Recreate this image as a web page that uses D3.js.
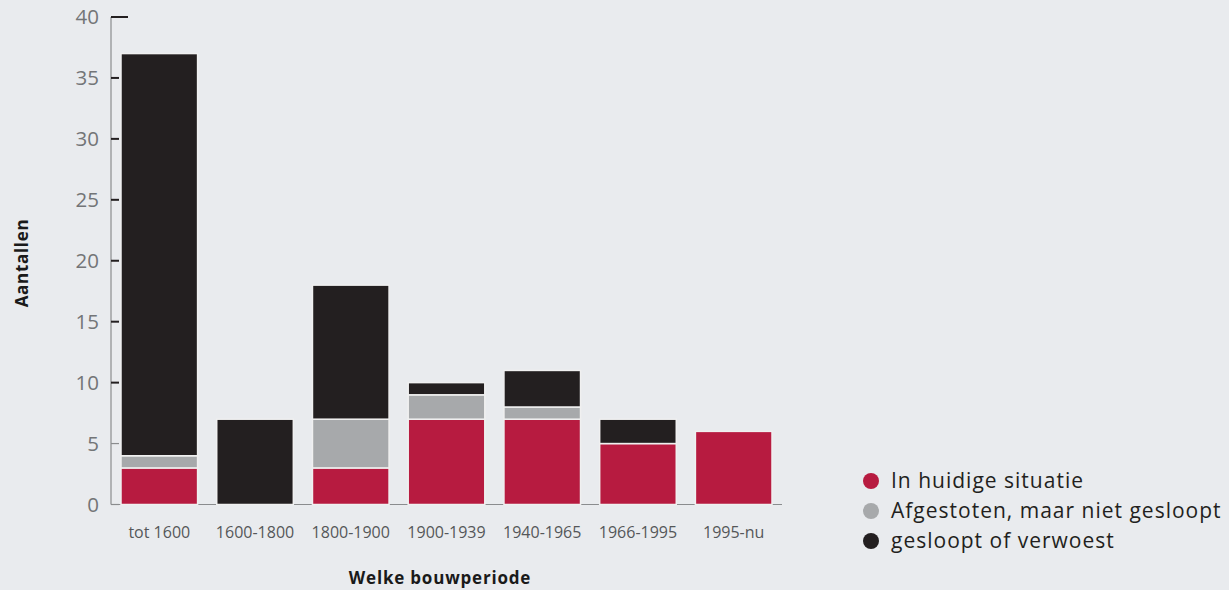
<!DOCTYPE html>
<html>
<head>
<meta charset="utf-8">
<script src="https://cdn.jsdelivr.net/npm/d3@7/dist/d3.min.js"></script>
<style>
  html, body { margin: 0; padding: 0; background: #e9ebee; }
  svg { display: block; font-family: "Open Sans", Lato, sans-serif; }
</style>
</head>
<body>
<svg id="chart" width="1229" height="590"></svg>
<script>
// Building periods and counts per status
const periods = ["tot 1600", "1600-1800", "1800-1900", "1900-1939", "1940-1965", "1966-1995", "1995-nu"];
const huidig = [3, 0, 3, 7, 7, 5, 6];        // In huidige situatie
const afgestoten = [1, 0, 4, 2, 1, 0, 0];    // Afgestoten, maar niet gesloopt
const gesloopt = [33, 7, 11, 1, 3, 2, 0];    // gesloopt of verwoest
const seriesNames = ["In huidige situatie", "Afgestoten, maar niet gesloopt", "gesloopt of verwoest"];
const seriesColors = ["#b71b40", "#a7a9ab", "#231f20"];
const yTicks = [0, 5, 10, 15, 20, 25, 30, 35, 40];

const svg = d3.select("#chart");

const rows = periods.map((p, i) => ({ period: p, huidig: huidig[i], afgestoten: afgestoten[i], gesloopt: gesloopt[i] }));
const keys = ["huidig", "afgestoten", "gesloopt"];
const stacked = d3.stack().keys(keys)(rows);

const x = d3.scaleBand().domain(periods).range([121, 772]).paddingInner(0.2).paddingOuter(0);
const y = d3.scaleLinear().domain([0, 40]).range([504.5, 17]);

// x baseline, visible in the gaps between bars
svg.append("line")
  .attr("x1", 111).attr("x2", 782)
  .attr("y1", y(0)).attr("y2", y(0))
  .attr("stroke", "#8a8c8e").attr("stroke-width", 1.2);

// y axis line
svg.append("line")
  .attr("x1", 111).attr("x2", 111)
  .attr("y1", y(40)).attr("y2", y(0))
  .attr("stroke", "#8a8c8e").attr("stroke-width", 1.2);

// y ticks
svg.append("g").selectAll("line").data(yTicks).join("line")
  .attr("x1", 111)
  .attr("x2", d => d === 40 ? 128 : 119)
  .attr("y1", d => y(d)).attr("y2", d => y(d))
  .attr("stroke", d => d <= 5 ? "#8a8c8e" : "#231f20")
  .attr("stroke-width", d => d <= 5 ? 1.2 : 2);

svg.append("g").selectAll("text").data(yTicks).join("text")
  .attr("x", 99).attr("y", d => y(d))
  .attr("dy", "0.36em")
  .attr("text-anchor", "end")
  .attr("fill", "#737577")
  .attr("font-size", 20.5)
  .text(d => d);

// stacked bars
svg.append("g").selectAll("g").data(stacked).join("g")
  .attr("fill", (d, i) => seriesColors[i])
  .selectAll("rect").data(d => d.filter(s => s[1] - s[0] > 0)).join("rect")
  .attr("x", d => x(d.data.period))
  .attr("width", x.bandwidth())
  .attr("y", d => y(d[1]))
  .attr("height", d => y(d[0]) - y(d[1]))
  .attr("stroke", "#f0f0f0")
  .attr("stroke-width", 1.5);

// category labels
svg.append("g").selectAll("text").data(periods).join("text")
  .attr("x", d => x(d) + x.bandwidth() / 2)
  .attr("y", 532).attr("dy", "0.35em")
  .attr("text-anchor", "middle")
  .attr("fill", "#555759")
  .attr("font-size", 16)
  .text(d => d);

// axis titles
svg.append("text")
  .attr("x", 440).attr("y", 584)
  .attr("text-anchor", "middle")
  .attr("font-weight", 700)
  .attr("font-size", 17)
  .attr("letter-spacing", 0.8)
  .attr("fill", "#1a1a1a")
  .text("Welke bouwperiode");

svg.append("text")
  .attr("transform", "translate(28,263) rotate(-90)")
  .attr("text-anchor", "middle")
  .attr("font-weight", 700)
  .attr("font-size", 17)
  .attr("letter-spacing", 0.7)
  .attr("fill", "#1a1a1a")
  .text("Aantallen");

// legend
const legend = svg.append("g").selectAll("g").data(seriesNames).join("g")
  .attr("transform", (d, i) => `translate(871,${481 + i * 30})`);
legend.append("circle").attr("r", 8).attr("fill", (d, i) => seriesColors[i]);
legend.append("text")
  .attr("x", 20).attr("dy", "0.35em")
  .attr("font-size", 21)
  .attr("letter-spacing", 1)
  .attr("fill", "#231f20")
  .text(d => d);
</script>
</body>
</html>
